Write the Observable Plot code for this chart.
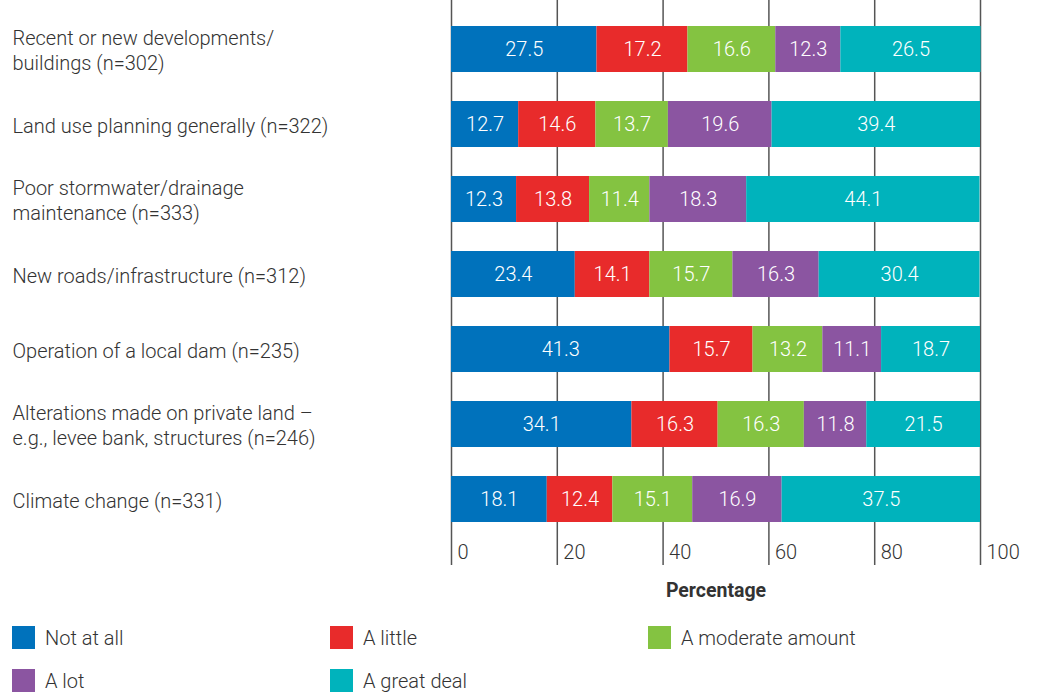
<!DOCTYPE html>
<html>
<head>
<meta charset="utf-8">
<script src="https://cdn.jsdelivr.net/npm/d3@7"></script>
<script src="https://cdn.jsdelivr.net/npm/@observablehq/plot@0.6"></script>
<style>
  body { margin: 0; background: #fff; font-family: Roboto, "Open Sans", sans-serif; }
  #chart svg { display: block; }
  .legend { position: relative; height: 85px; color: #333; font-size: 20px; font-weight: 300; }
  .legend .item { position: absolute; display: flex; align-items: center; height: 23px; }
  .legend .sw { width: 23px; height: 23px; margin-right: 10px; }
</style>
</head>
<body>
<div id="chart"></div>
<div class="legend" id="legend"></div>
<script>
// Causes of flooding, share of respondents by how much they think it contributes
const categories = [
  "Recent or new developments/\nbuildings (n=302)",
  "Land use planning generally (n=322)",
  "Poor stormwater/drainage\nmaintenance (n=333)",
  "New roads/infrastructure (n=312)",
  "Operation of a local dam (n=235)",
  "Alterations made on private land –\ne.g., levee bank, structures (n=246)",
  "Climate change (n=331)"
];
const responses = ["Not at all", "A little", "A moderate amount", "A lot", "A great deal"];
const notAtAll   = [27.5, 12.7, 12.3, 23.4, 41.3, 34.1, 18.1];
const aLittle    = [17.2, 14.6, 13.8, 14.1, 15.7, 16.3, 12.4];
const moderate   = [16.6, 13.7, 11.4, 15.7, 13.2, 16.3, 15.1];
const aLot       = [12.3, 19.6, 18.3, 16.3, 11.1, 11.8, 16.9];
const greatDeal  = [26.5, 39.4, 44.1, 30.4, 18.7, 21.5, 37.5];
const xTicks = [0, 20, 40, 60, 80, 100];
const colors = ["#0072bc", "#e82b2b", "#84c341", "#8b55a1", "#00b3bc"];

const series = [notAtAll, aLittle, moderate, aLot, greatDeal];
const rows = [];
categories.forEach((c, i) => {
  responses.forEach((r, j) => rows.push({category: c, response: r, value: series[j][i]}));
});

const textColor = "#333";
const font = "Roboto, 'Open Sans', sans-serif";

const chart = Plot.plot({
  width: 1040,
  height: 610,
  marginLeft: 451,
  marginRight: 60,
  marginTop: 0,
  marginBottom: 45,
  style: {fontFamily: font, fontSize: "20px", color: textColor, background: "#fff"},
  x: {domain: [0, 100], axis: null},
  y: {domain: categories, range: [9, 539], paddingInner: 0.39, paddingOuter: 0.195, axis: null},
  color: {domain: responses, range: colors},
  marks: [
    Plot.ruleX(xTicks, {stroke: "#555", strokeWidth: 1.5}),
    Plot.barX(rows, {x: "value", y: "category", fill: "response", order: null}),
    Plot.text(rows, Plot.stackX({
      x: "value", y: "category", z: "response", order: null,
      text: d => d.value.toFixed(1), fill: "white", fontSize: 20, fontWeight: 300
    })),
    Plot.text(categories, {
      y: d => d, text: d => d, frameAnchor: "left", dx: -439,
      textAnchor: "start", lineHeight: 1.25, fill: textColor, fontSize: 20, fontWeight: 300
    }),
    Plot.text(xTicks, {
      x: d => d, text: d => String(d), frameAnchor: "bottom", dy: -7, dx: 6,
      textAnchor: "start", fill: textColor, fontSize: 20, fontWeight: 300
    }),
    Plot.text(["Percentage"], {
      x: 50, text: d => d, frameAnchor: "bottom", dy: 31,
      fill: textColor, fontSize: 19.5, fontWeight: "bold"
    })
  ]
});
document.getElementById("chart").appendChild(chart);

// Legend laid out in three columns
const legend = document.getElementById("legend");
const cols = [12, 330, 648];
responses.forEach((r, i) => {
  const item = document.createElement("div");
  item.className = "item";
  item.style.left = cols[i % 3] + "px";
  item.style.top = (16 + Math.floor(i / 3) * 43) + "px";
  item.innerHTML = `<div class="sw" style="background:${colors[i]}"></div><span>${r}</span>`;
  legend.appendChild(item);
});
</script>
</body>
</html>
